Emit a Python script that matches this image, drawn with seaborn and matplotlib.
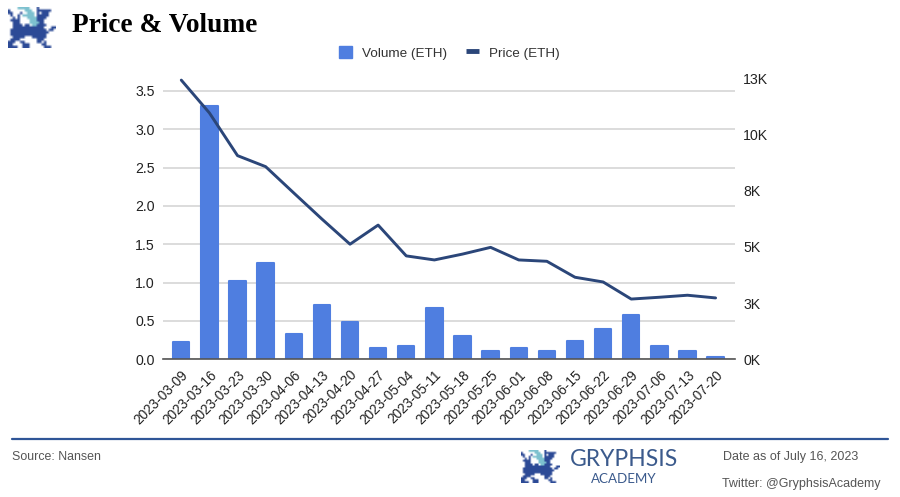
import numpy as np
import pandas as pd
import matplotlib
matplotlib.use("Agg")
import matplotlib.pyplot as plt
from matplotlib.colors import ListedColormap
from matplotlib.lines import Line2D
from matplotlib.patches import Patch
import seaborn as sns

dates = ["2023-03-09","2023-03-16","2023-03-23","2023-03-30","2023-04-06","2023-04-13","2023-04-20",
         "2023-04-27","2023-05-04","2023-05-11","2023-05-18","2023-05-25","2023-06-01","2023-06-08",
         "2023-06-15","2023-06-22","2023-06-29","2023-07-06","2023-07-13","2023-07-20"]
volume = [0.22,3.31,1.02,1.25,0.33,0.71,0.49,0.15,0.17,0.67,0.30,0.11,0.15,0.11,0.24,0.40,0.58,0.17,0.11,0.03]
price_k = [12.42,10.96,9.06,8.57,7.40,6.24,5.12,5.97,4.60,4.42,4.68,4.98,4.42,4.36,3.65,3.44,2.68,2.76,2.85,2.73]
left_ticks = [0.0,0.5,1.0,1.5,2.0,2.5,3.0,3.5]
right_ticks = [0,2.5,5,7.5,10,12.5]
right_labels = ["0K","3K","5K","8K","10K","13K"]

LOGO = [
 "....LLLLL...D.......",
 "D......LLL..DDDDDD..",
 "DD...D..LLL.D.DDD...",
 ".D..D.LLLLL.DDDDD...",
 "..D.D...LLLLDDDD....",
 ".DDDD....LLLDDD.....",
 "..DDD....LLLLDD.....",
 "..DDDD.DD.LLDDDD....",
 "..DDDDDDDDDDDDD...DD",
 ".DDDDDDDDDDDDDDD.DD.",
 ".DDDDDDDDDDDDDDDD...",
 ".DDDDDDDDDDDDDDD....",
 "..DDDDD...DDDDDD....",
 ".DDDD.......DDD.....",
 "DDD..DD.....DD.D....",
 "DD....DDD.....DD....",
 "DDDD..DDD......DDD..",
]

def logo(fig, x0, y0, x1, y1):
    W, H = 900, 497
    a = fig.add_axes([x0/W, 1-y1/H, (x1-x0)/W, (y1-y0)/H])
    palette = np.array([[255, 255, 255], [44, 74, 150], [125, 193, 207]], dtype=np.uint8)
    codes = {".": 0, "D": 1, "L": 2}
    arr = palette[np.array([[codes[c] for c in r] for r in LOGO])]
    a.imshow(arr, interpolation="bilinear", aspect="auto")
    a.axis("off")

sns.set_theme(style="white")
plt.rcParams["font.family"] = ["Liberation Sans", "DejaVu Sans"]

W, H = 900, 497
fig = plt.figure(figsize=(9, 4.97), dpi=100, facecolor="white")
ax = fig.add_axes([163/W, 1-359.3/H, (735-163)/W, (359.3-78)/H])

df = pd.DataFrame({"date": dates, "volume": volume, "price": price_k})
BAR = "#4f7ee0"
LINE = "#2b4679"
GRID = "#d6d6d6"
TXT = "#222222"

sns.barplot(data=df, x="date", y="volume", color=BAR, saturation=1, width=0.58, ax=ax, zorder=2,
            edgecolor=BAR, linewidth=1.5)
for p in ax.patches:
    p.set_joinstyle("round")
ax.set_xlim(-0.65, 19.69)
ax.set_ylim(0, 281.3/76.66)
ax.set_yticks(left_ticks)
ax.set_yticklabels([f"{v:.1f}" for v in left_ticks])
ax.grid(axis="y", color=GRID, lw=1.2, zorder=0)
ax.set_axisbelow(True)
ax.set_xlabel(""); ax.set_ylabel("")
for s in ["top", "left", "right"]:
    ax.spines[s].set_visible(False)
ax.spines["bottom"].set_color("#555555")
ax.spines["bottom"].set_linewidth(1.2)
ax.spines["bottom"].set_zorder(5)
ax.tick_params(axis="y", length=0, pad=6, labelsize=10.2, labelcolor=TXT)
ax.tick_params(axis="x", length=0, pad=6, labelsize=9.8, labelcolor=TXT)
ax.set_xticks(range(len(dates)))
ax.set_xticklabels(dates, rotation=45, ha="right", rotation_mode="anchor")

ax2 = ax.twinx()
sns.lineplot(data=df, x="date", y="price", color=LINE, lw=2.1, ax=ax2, zorder=3)
ax2.set_ylim(0, 281.3/22.48)
ax2.set_yticks(right_ticks)
ax2.set_yticklabels(right_labels)
ax2.set_xlabel(""); ax2.set_ylabel("")
ax2.grid(False)
for s in ax2.spines.values():
    s.set_visible(False)
ax2.tick_params(axis="y", length=0, pad=6, labelsize=10.2, labelcolor=TXT)

handles = [Patch(color=BAR, label="Volume (ETH)"),
           Line2D([0], [0], color=LINE, lw=3.5, solid_capstyle="butt", label="Price (ETH)")]
fig.legend(handles=handles, loc="center", bbox_to_anchor=(449/W, 1-53/H), ncol=2, frameon=False,
           fontsize=9.7, handlelength=1.0, handleheight=1.0, handletextpad=0.7, columnspacing=1.4,
           labelcolor="#333333")

fig.text(72/W, 1-25/H, "Price & Volume", family="Liberation Serif", weight="bold",
         fontsize=19.7, color="black", ha="left", va="center")

fig.add_artist(Line2D([12/W, 888/W], [1-439/H, 1-439/H], color="#2f5597", lw=1.6))
fig.text(12/W, 1-457/H, "Source: Nansen", fontsize=8.9, color="#555555", va="center")
fig.text(723/W, 1-457/H, "Date as of July 16, 2023", fontsize=9.0, color="#555555", va="center")
fig.text(722/W, 1-484/H, "Twitter: @GryphsisAcademy", fontsize=9.0, color="#555555", va="center")
fig.text(570/W, 1-460/H, "GRYPHSIS", family="Lato", fontsize=16.5, color="#3b5a8c", va="center")
fig.text(624/W, 1-479/H, "ACADEMY", family="Lato", fontsize=9.6, color="#3b5a8c", va="center", ha="center")

logo(fig, 8, 7, 55, 48)
logo(fig, 521, 450, 560, 483)

fig.savefig("out.png", dpi=100, facecolor="white")
